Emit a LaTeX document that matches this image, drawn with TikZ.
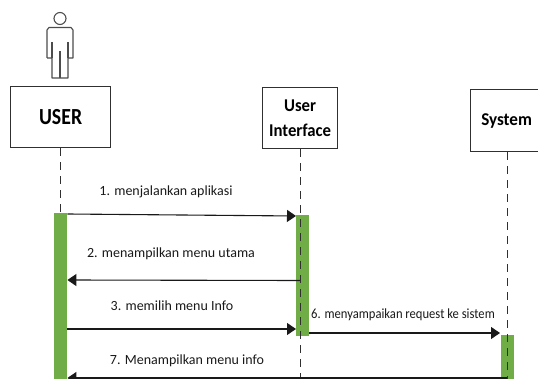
\documentclass[tikz,border=0pt]{standalone}
\usepackage{fontspec}
\setmainfont{Carlito}
\usetikzlibrary{arrows.meta}
\definecolor{barg}{HTML}{70AD47}
\definecolor{ln}{HTML}{303030}
\tikzset{
 x=1pt,y=-1pt,
 lifebox/.style={draw=ln,line width=1.2pt,fill=white,anchor=north west,inner sep=0pt,align=center,font=\bfseries\fontsize{18}{25}\selectfont},
 lifeline/.style={draw=ln,line width=1pt,dash pattern=on 8pt off 6pt},
 activebar/.style={fill=barg,draw=none,anchor=north west,inner sep=0pt,minimum width=13pt},
 msg/.style={draw=black!90,line width=1.1pt,-{Triangle[length=9pt,width=12pt]}},
 lbl/.style={inner sep=0pt,font=\fontsize{14}{16}\selectfont,text=black!90},
 body/.style={draw=black!70,line width=1.1pt,line join=round}
}
\newcommand{\sq}[2][0.8]{\scalebox{#1}[1]{#2}}
\begin{document}
\begin{tikzpicture}
\useasboundingbox (0,0) rectangle (538,379);
% actor
\node[circle,draw=black!70,line width=1.1pt,minimum size=12pt,inner sep=0pt] (head) at (60,18.5) {};
\draw[body] (47,58) -- (47,30) -- (49,27.5) -- (71,27.5) -- (73,30) -- (73,58) -- (68,58) -- (68,78) -- (52,78) -- (52,58) -- (47,58);
\draw[body] (60,51) -- (60,78) (52,42) -- (52,58) (68,42) -- (68,58);
% heads
\node[lifebox,minimum width=100pt,minimum height=61pt] (user) at (10,86) {\fontsize{23}{25}\selectfont\sq[0.86]{USER}};
\node[lifebox,minimum width=75pt,minimum height=61pt] (ui) at (262,87) {\raisebox{-1.5pt}{\sq[0.93]{User}}\\[1pt]\raisebox{-1pt}{\sq[0.93]{Interface}}};
\node[lifebox,minimum width=72pt,minimum height=62pt] (sys) at (470,89) {\raisebox{-1.5pt}{\sq[0.95]{System}}};
% bars
\node[activebar,minimum height=166pt] (b1) at (54,213) {};
\node[activebar,minimum height=121pt] (b2) at (296,215) {};
\node[activebar,minimum height=44pt] (b3) at (501,335) {};
% lifelines
\coordinate (uend) at (60,213);
\coordinate (iend) at (300,379);
\coordinate (send) at (507,379);
\draw[lifeline] (user.south -| uend) -- (uend);
\draw[lifeline] (ui.south -| iend) -- (iend);
\draw[lifeline] (sys.south -| send) -- (send);
% message ends
\coordinate (m1a) at (b1.east |- 0,214);
\coordinate (m1b) at (b2.west |- 0,216);
\coordinate (m2a) at (300,280.5);
\coordinate (m2b) at (b1.east |- 0,280);
\coordinate (m3a) at (b1.east |- 0,329);
\coordinate (m3b) at (b2.west |- 0,329);
\coordinate (m6a) at (b2.east |- 0,333);
\coordinate (m6b) at (500,333);
\coordinate (m7a) at (507,378);
\coordinate (m7b) at (b1.east |- 0,378);
\draw[msg] (m1a) -- (m1b);
\draw[msg] (m2a) -- (m2b);
\draw[msg] (m3a) -- (m3b);
\draw[msg] (m6a) -- (m6b);
\draw[msg] (m7a) -- (m7b);
% labels
\node[lbl] (l1) at (166,192) {1. menjalankan aplikasi};
\node[lbl] (l2) at (171,254) {2. menampilkan menu utama};
\node[lbl] (l3) at (172,306) {3. memilih menu Info};
\node[lbl] (l6) at (403,315) {\sq[0.9]{6. menyampaikan request ke sistem}};
\node[lbl] (l7) at (187,360.5) {7. Menampilkan menu info};
\end{tikzpicture}
\end{document}
